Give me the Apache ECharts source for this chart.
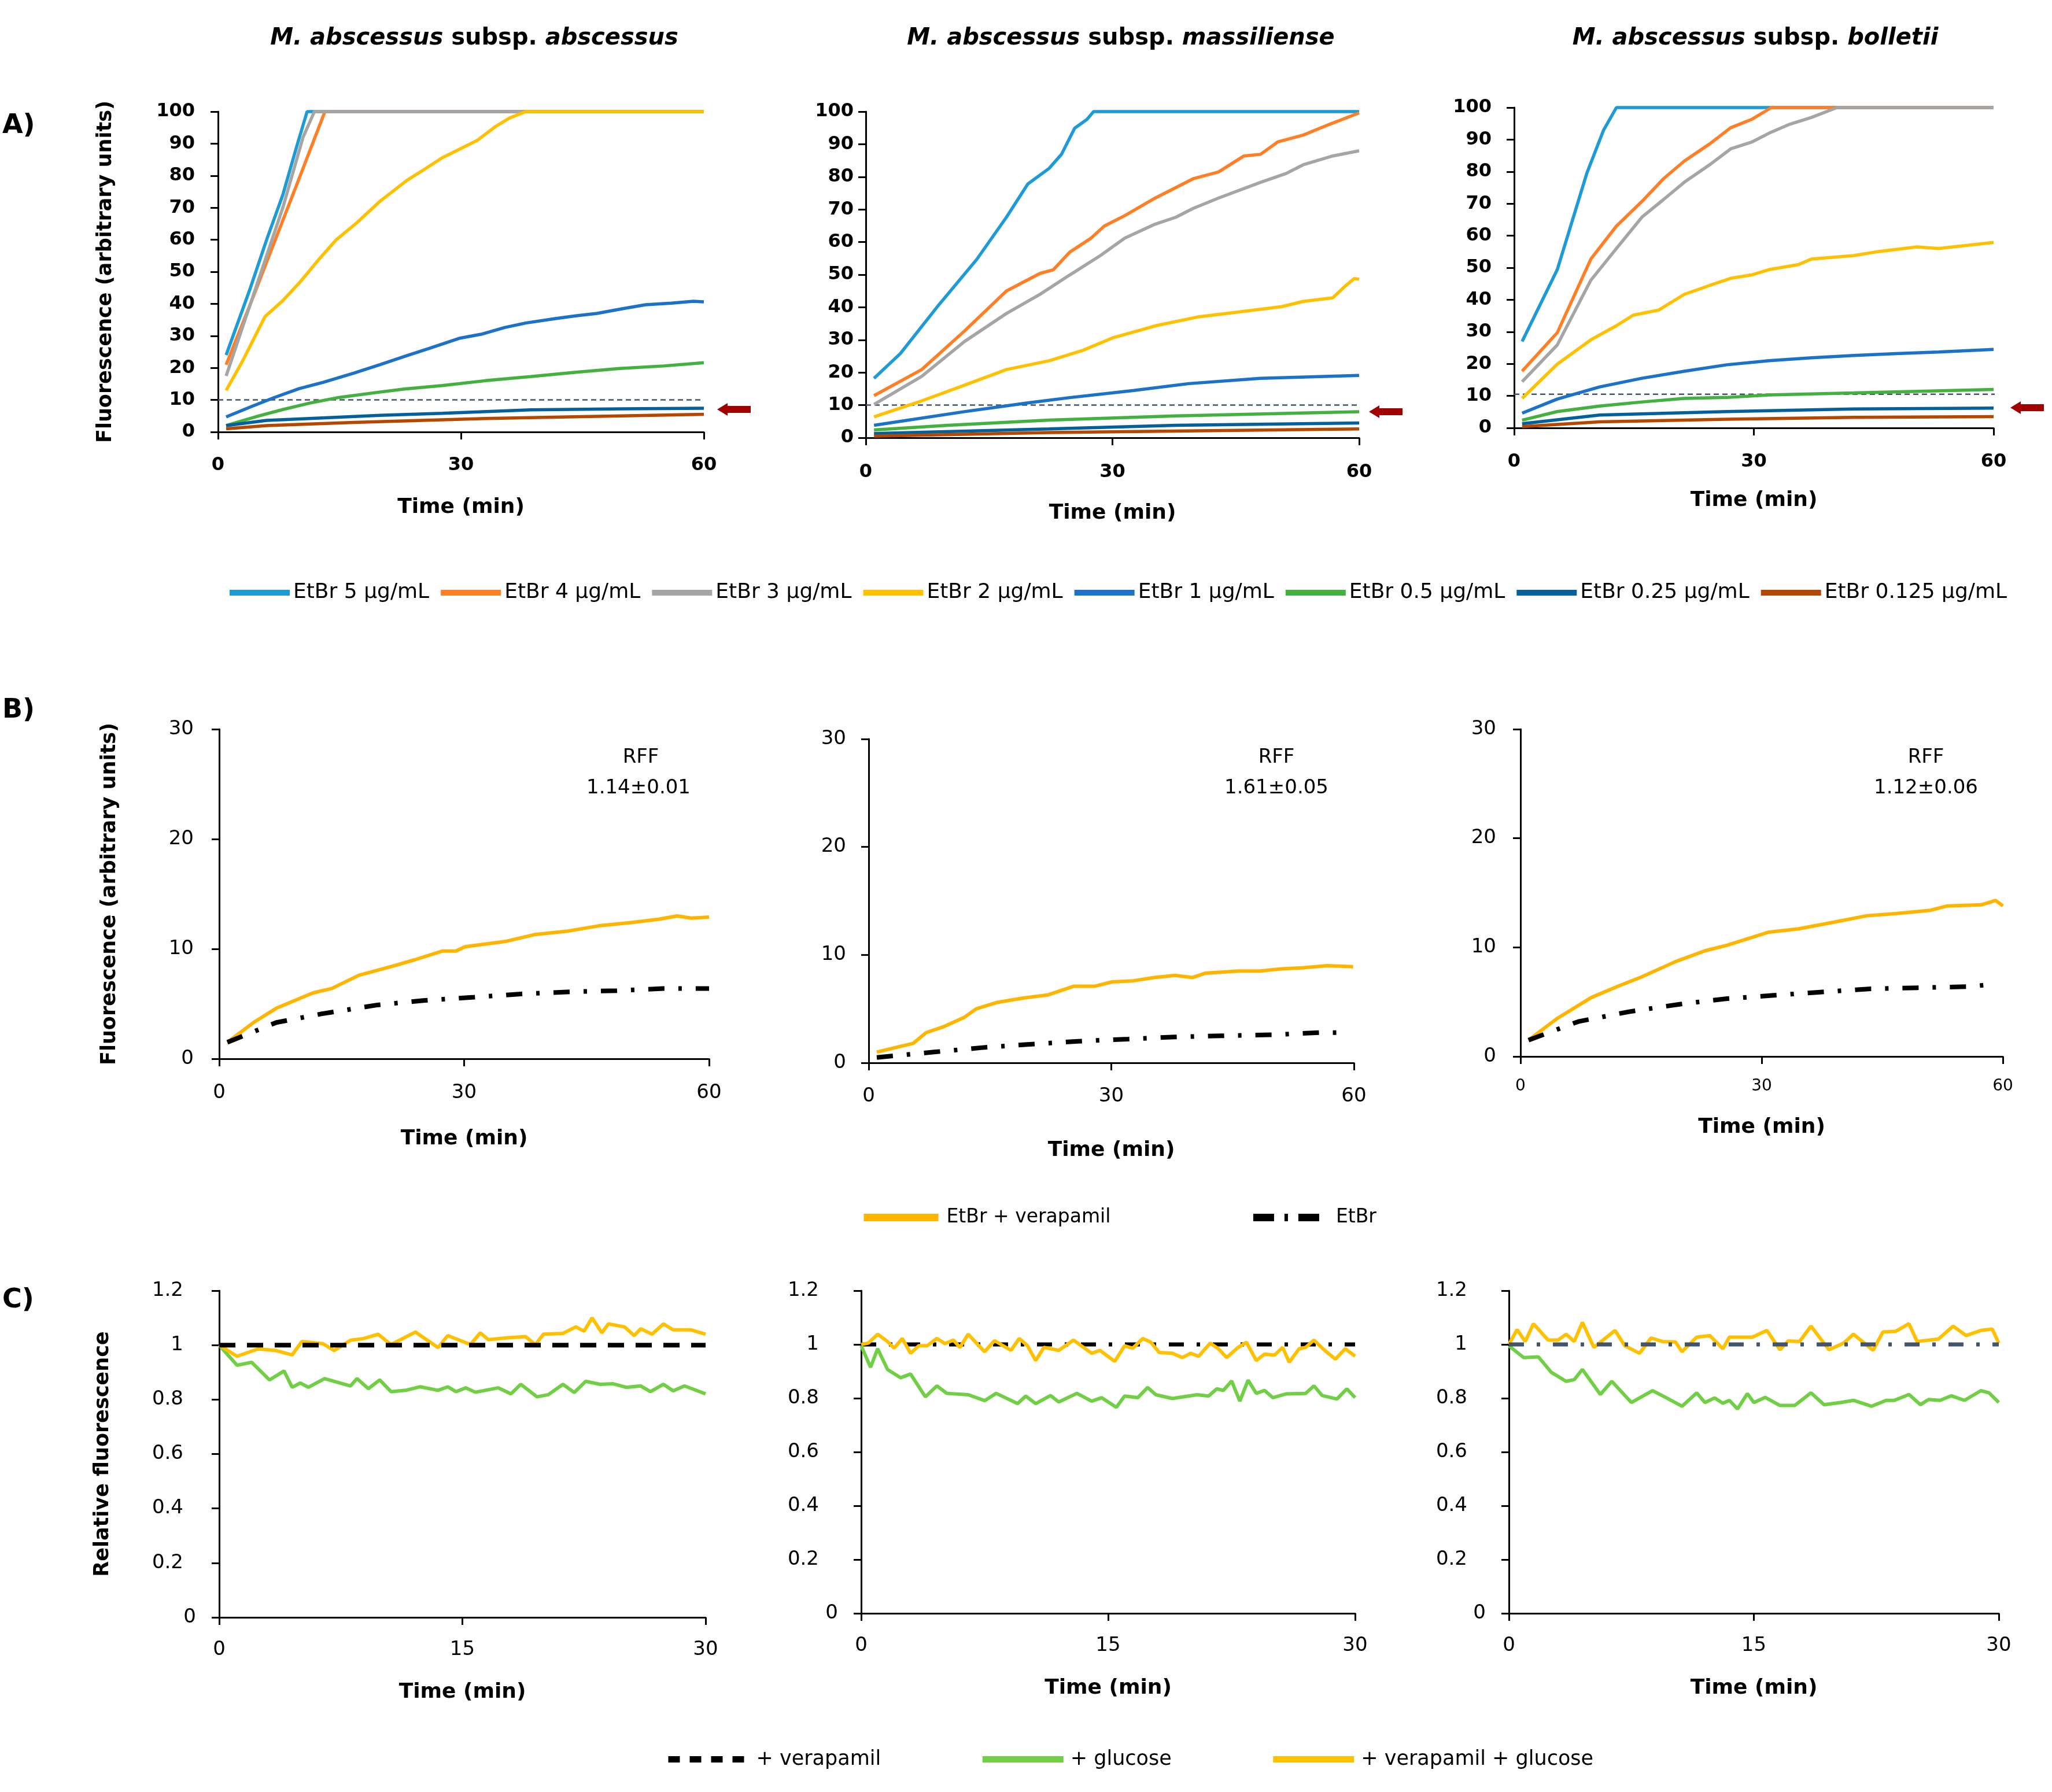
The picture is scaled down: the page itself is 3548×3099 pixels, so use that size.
<!DOCTYPE html>
<html><head><meta charset="utf-8">
<script src="https://cdn.jsdelivr.net/npm/echarts@6/dist/echarts.min.js"></script>
<style>html,body{margin:0;padding:0;background:#fff}#c{width:3548px;height:3099px}</style>
</head><body><div id="c"></div>
<script>
// ---------- DATA ----------
const concNames = ['EtBr 5 µg/mL','EtBr 4 µg/mL','EtBr 3 µg/mL','EtBr 2 µg/mL','EtBr 1 µg/mL','EtBr 0.5 µg/mL','EtBr 0.25 µg/mL','EtBr 0.125 µg/mL'];
const concColors = ['#1E9BD7','#FF7F27','#A5A5A5','#FFC000','#1B72C8','#44B040','#04609A','#B44800'];
const xTicksA = [0,30,60], xTicksC = [0,15,30];
const thresholdA = [10, 10, 10.5];

// Panel A1 (subsp. abscessus): [time min, fluorescence]
const A1_5 = [[1,24],[4,45],[6,60],[8,74],[9.7,89],[11,100],[60,100]];
const A1_4 = [[1,21],[4,40],[8,66],[10,79],[13.2,100],[60,100]];
const A1_3 = [[1,17.5],[4,40],[8,70],[10.5,92],[11.9,100],[60,100]];
const A1_2 = [[1,13],[3,22],[5.8,36],[8,41],[10.2,47],[12.5,54],[14.6,60],[17,65],[20,72],[23.3,78.5],[25.5,82],[27.7,85.6],[30.4,89],[32,91],[34.3,95.4],[36,98],[38,100],[60,100]];
const A1_1 = [[1,4.7],[4,7.8],[6.9,10.7],[10,13.5],[13,15.5],[16.8,18.4],[20,21],[23.3,23.8],[26,26],[29.9,29.3],[32.5,30.5],[35.4,32.6],[38,34],[41.4,35.3],[44,36.2],[46.8,37],[50,38.5],[52.8,39.7],[56,40.2],[58.7,40.8],[60,40.6]];
const A1_05 = [[1,2],[5,5],[8,7],[11.3,9],[15,10.8],[19.5,12.3],[23,13.4],[27.7,14.5],[33,16],[38.6,17.3],[44,18.6],[49.6,19.8],[55,20.6],[60,21.6]];
const A1_025 = [[1,2],[6,3.6],[11.3,4.2],[20,5.2],[27.7,5.8],[38.6,6.9],[50,7.2],[60,7.4]];
const A1_0125 = [[1,1],[6,2],[16.8,3],[33,4.2],[45,4.8],[60,5.5]];

// Panel A2 (subsp. massiliense)
const A2_5 = [[1,18.2],[4.2,25.8],[8.9,40.8],[13.5,54.7],[17.1,67.6],[19.7,77.8],[22.3,82.6],[23.8,86.9],[25.4,94.9],[26.9,97.6],[27.7,100],[60,100]];
const A2_4 = [[1,12.9],[6.8,20.9],[12,32.7],[17.1,45],[21.2,50.4],[22.8,51.5],[24.8,56.9],[27.4,61.2],[29,64.9],[31.5,68.1],[35.2,73.5],[39.8,79.4],[42.9,81.5],[46,86.4],[48,86.9],[50.1,90.7],[53.2,92.8],[56.3,96],[60,99.6]];
const A2_3 = [[1,10.2],[6.8,18.8],[12,29.5],[17.1,38.1],[21.2,44],[24.8,49.9],[28.5,55.8],[31.5,61.2],[35.2,65.5],[37.7,67.6],[39.8,70.3],[42.9,73.5],[48,78.3],[51.1,81],[53.2,83.7],[56.8,86.4],[60,88]];
const A2_2 = [[1,6.4],[6.8,11.3],[12,16.1],[17.1,20.9],[22.3,23.6],[26.4,26.8],[30,30.6],[35.2,34.3],[40.3,37],[45.5,38.6],[50.6,40.2],[53.2,41.8],[56.8,42.9],[58.4,46.7],[59.4,48.8],[60,48.6]];
const A2_1 = [[1,3.8],[12,8],[19.7,10.7],[24.8,12.3],[32.6,14.5],[39.3,16.6],[48,18.2],[60,19.1]];
const A2_05 = [[1,2.4],[10,3.8],[22.3,5.4],[37.7,6.7],[60,8]];
const A2_025 = [[1,1.3],[22.3,2.7],[37.7,3.8],[60,4.5]];
const A2_0125 = [[1,0.5],[22.3,1.6],[60,2.7]];

// Panel A3 (subsp. bolletii)
const A3_5 = [[1,27],[5.4,49.4],[9.1,79.5],[11.2,93],[12.8,100],[60,100]];
const A3_4 = [[1,17.7],[5.4,29.7],[9.6,52.7],[12.8,63],[16,70.7],[18.7,77.8],[21.3,83.3],[24.5,88.7],[27.1,93.7],[29.8,96.4],[32.2,100],[60,100]];
const A3_3 = [[1,14.4],[5.4,25.9],[9.6,46.1],[12.8,56],[16,65.8],[18.7,71.3],[21.3,76.7],[24.5,82.2],[27.1,87.1],[29.8,89.3],[31.9,92],[34.5,94.8],[37.2,96.9],[40.4,100],[60,100]];
const A3_2 = [[1,9.2],[5.4,19.9],[9.6,27.5],[12.8,31.9],[14.9,35.2],[18.1,36.8],[21.3,41.7],[24.5,44.5],[27.1,46.7],[29.8,47.8],[31.9,49.4],[35.6,51],[37.2,52.7],[42.5,53.8],[45.2,54.9],[50.4,56.5],[53.1,56],[60,57.9]];
const A3_1 = [[1,4.6],[5.4,9],[10.7,12.8],[16,15.5],[21.3,17.7],[26.6,19.7],[31.9,21],[37.2,21.9],[42.5,22.6],[47.8,23.2],[53.1,23.7],[60,24.5]];
const A3_05 = [[1,2.4],[5.4,5.1],[10.7,6.8],[16,8.1],[21.3,9.2],[26.6,9.5],[31.9,10.3],[42.5,10.9],[60,12]];
const A3_025 = [[1,1.3],[10.7,4],[26.6,5.1],[42.5,5.9],[60,6.2]];
const A3_0125 = [[1,0.4],[10.7,1.9],[26.6,2.7],[42.5,3.3],[60,3.5]];

// Panel B: EtBr + verapamil vs EtBr
const B1_ver = [[1,1.5],[4.2,3.3],[7,4.6],[11.5,6],[13.8,6.4],[17.1,7.6],[21.1,8.4],[23.9,9],[27.3,9.8],[29,9.8],[30.1,10.2],[35.2,10.7],[38.6,11.3],[42.5,11.6],[46.5,12.1],[50.4,12.4],[53.8,12.7],[56.1,13],[57.8,12.8],[60,12.9]];
const B1_etbr = [[1,1.5],[7,3.3],[12.6,4.1],[19.4,4.9],[25,5.3],[31.2,5.6],[36.9,5.9],[43.1,6.1],[48.7,6.2],[54.4,6.4],[60,6.4]];
const B2_ver = [[1,1],[5.5,1.8],[7.1,2.8],[9.1,3.3],[11.8,4.2],[13.3,5],[15.9,5.6],[19.1,6],[22.2,6.3],[25.4,7.1],[28,7.1],[30.1,7.5],[32.7,7.6],[35.3,7.9],[37.9,8.1],[40,7.9],[41.6,8.3],[45.7,8.5],[48.4,8.5],[51,8.7],[53.6,8.8],[56.7,9],[59.9,8.9]];
const B2_etbr = [[1,0.5],[8.1,1],[13.9,1.4],[19.6,1.7],[25.9,2],[32.1,2.2],[37.9,2.4],[43.6,2.5],[49.9,2.6],[55.7,2.8],[59.1,2.8]];
const B3_ver = [[1,1.5],[4.6,3.5],[8.8,5.4],[12,6.4],[15.1,7.3],[19.3,8.7],[23,9.7],[25.7,10.2],[30.9,11.4],[34.6,11.7],[38.9,12.3],[43.1,12.9],[46.8,13.1],[51,13.4],[53.1,13.8],[57.3,13.9],[59.1,14.3],[60,13.8]];
const B3_etbr = [[1,1.5],[7.2,3.2],[13.5,4.1],[19.9,4.8],[25.7,5.3],[31.5,5.6],[37.3,5.9],[43.6,6.2],[49.4,6.3],[55.7,6.4],[58.6,6.6]];
const rffText = ['1.14±0.01','1.61±0.05','1.12±0.06'];

// Panel C: relative fluorescence
const C_verapamil = [[0,1],[30,1]];
const C1_glu = [[0,1],[1.1,0.926],[2,0.937],[3.1,0.872],[4,0.905],[4.5,0.845],[5,0.861],[5.5,0.845],[6.5,0.877],[8.1,0.85],[8.5,0.877],[9.2,0.84],[9.9,0.872],[10.6,0.829],[11.5,0.834],[12.4,0.847],[13.5,0.834],[14.1,0.847],[14.6,0.829],[15.2,0.843],[15.8,0.827],[17.2,0.843],[18,0.821],[18.6,0.856],[19.6,0.81],[20.3,0.818],[21.2,0.856],[21.9,0.826],[22.6,0.867],[23.5,0.856],[24.3,0.858],[25.1,0.845],[26,0.85],[26.6,0.829],[27.4,0.856],[28,0.832],[28.7,0.85],[30,0.821]];
const C1_vg = [[0,1],[1.1,0.959],[2.4,0.986],[3.5,0.98],[4.5,0.964],[5.1,1.013],[6.4,1.005],[7.1,0.98],[8.1,1.018],[8.9,1.024],[9.8,1.04],[10.6,1.002],[12.1,1.048],[13.5,0.991],[14.1,1.035],[15.5,1.002],[16.1,1.045],[16.6,1.02],[17.8,1.027],[18.9,1.031],[19.5,1.002],[20,1.04],[21.2,1.043],[22,1.067],[22.5,1.051],[23,1.1],[23.6,1.045],[24,1.078],[25,1.067],[25.6,1.035],[26,1.06],[26.7,1.04],[27.4,1.078],[28,1.056],[29.1,1.056],[30,1.04]];
const C2_glu = [[0,0.995],[0.57,0.915],[1,0.984],[1.6,0.907],[2.4,0.876],[3,0.89],[3.9,0.805],[4.6,0.846],[5.2,0.818],[6.5,0.813],[7.5,0.791],[8.2,0.818],[9.5,0.78],[10,0.808],[10.6,0.78],[11.5,0.81],[12,0.786],[13.1,0.818],[14,0.789],[14.6,0.802],[15.5,0.766],[16,0.808],[16.8,0.802],[17.4,0.84],[17.9,0.813],[18.9,0.799],[20.4,0.813],[21.1,0.808],[21.6,0.835],[22,0.829],[22.5,0.864],[23,0.789],[23.5,0.867],[24,0.818],[24.5,0.829],[25,0.802],[25.8,0.816],[27,0.818],[27.5,0.846],[28,0.81],[28.9,0.797],[29.5,0.835],[30,0.802]];
const C2_vg = [[0,1],[0.44,1.005],[1,1.038],[1.6,1.011],[2,0.986],[2.5,1.022],[3,0.967],[3.5,0.995],[4,0.995],[4.6,1.022],[5.1,1.003],[5.6,1.016],[6,0.989],[6.5,1.038],[7,1.005],[7.5,0.973],[8.1,1.014],[9.1,0.978],[9.6,1.022],[10.1,0.995],[10.6,0.94],[11.1,0.989],[12,0.978],[12.9,1.016],[14,0.967],[14.5,0.978],[15.4,0.937],[16,0.995],[16.5,0.986],[17.1,1.022],[17.6,1.008],[18.1,0.97],[18.9,0.967],[19.5,0.951],[20,0.967],[20.5,0.956],[21.2,1.005],[21.7,0.984],[22.2,0.951],[22.9,0.989],[23.4,1.008],[24,0.94],[24.5,0.964],[25.1,0.96],[25.6,0.989],[26,0.934],[26.6,0.984],[27,0.989],[27.5,1.016],[28.1,0.981],[28.8,0.945],[29.4,0.984],[30,0.956]];
const C3_glu = [[0,0.995],[0.9,0.951],[1.8,0.954],[2.6,0.896],[3.5,0.863],[4,0.869],[4.5,0.907],[5.6,0.814],[6.3,0.863],[7.5,0.784],[8.8,0.828],[9.6,0.803],[10.6,0.77],[11.5,0.82],[12,0.784],[12.6,0.801],[13.1,0.781],[13.5,0.792],[14,0.76],[14.6,0.817],[15,0.784],[15.7,0.803],[16.6,0.773],[17.5,0.773],[18.5,0.82],[19.3,0.776],[20.3,0.784],[21.1,0.792],[22.2,0.77],[23.1,0.792],[23.6,0.792],[24.5,0.814],[25.2,0.776],[25.7,0.795],[26.4,0.792],[27.1,0.809],[27.9,0.792],[28.9,0.828],[29.4,0.82],[30,0.784]];
const C3_vg = [[0,1],[0.5,1.055],[1,1.011],[1.5,1.077],[2.4,1.016],[3,1.016],[3.5,1.038],[4,1.011],[4.5,1.082],[5.2,0.989],[6.5,1.052],[7.1,0.995],[8,0.967],[8.7,1.024],[9.4,1.011],[10.2,1.009],[10.6,0.973],[11.5,1.027],[12.3,1.033],[13.1,0.984],[13.5,1.027],[14.9,1.027],[15.8,1.052],[16.6,0.98],[17.1,1.013],[17.8,1.011],[18.5,1.068],[19.6,0.98],[20.5,1.005],[21.1,1.038],[22.3,0.978],[22.9,1.046],[23.7,1.049],[24.5,1.077],[25,1.011],[26.3,1.02],[27.2,1.068],[28,1.033],[28.9,1.052],[29.6,1.057],[30,1.005]];

// ---------- CHART ----------
const FONT = 'DejaVu Sans';
const chart = echarts.init(document.getElementById('c'), null, {renderer:'canvas'});

const grids = [
  {left:377, top:193, width:840, height:554},
  {left:1497, top:193, width:853, height:564},
  {left:2618, top:186, width:829, height:554},
  {left:379, top:1261, width:847, height:570},
  {left:1502, top:1278, width:839, height:560},
  {left:2629, top:1261, width:834, height:566},
  {left:379, top:2232, width:841, height:565},
  {left:1489, top:2232, width:854, height:558},
  {left:2609, top:2232, width:847, height:558}
].map(g => Object.assign({containLabel:false, outerBoundsMode:'none'}, g));

const axLine = {show:true, lineStyle:{color:'#000', width:3}};
const axTick = {show:true, length:13, lineStyle:{color:'#000', width:3}};

function xAx(gi, max, interval, nameGap, margin, fs, bold) {
  return {type:'value', gridIndex:gi, min:0, max:max, interval:interval,
    axisLine:axLine, axisTick:axTick, splitLine:{show:false},
    axisLabel:{color:'#000', fontFamily:FONT, fontSize:fs, fontWeight:bold?'bold':'normal', margin:margin, showMinLabel:true, showMaxLabel:true},
    name:'Time (min)', nameLocation:'middle', nameGap:nameGap, nameMoveOverlap:false,
    nameTextStyle:{color:'#000', fontFamily:FONT, fontSize:36, fontWeight:'bold'}};
}
function yAx(gi, max, interval, name, nameGap, margin, fs, bold, pad) {
  const a = {type:'value', gridIndex:gi, min:0, max:max, interval:interval,
    axisLine:axLine, axisTick:axTick, splitLine:{show:false},
    axisLabel:{color:'#000', fontFamily:FONT, fontSize:fs, fontWeight:bold?'bold':'normal', margin:margin, showMinLabel:true, showMaxLabel:true},
    name:name, nameLocation:'middle', nameGap:nameGap, nameMoveOverlap:false,
    nameTextStyle:{color:'#000', fontFamily:FONT, fontSize:35, fontWeight:'bold'}};
  if (pad) {
    a.axisLabel.formatter = v => { const s = String(+v.toFixed(1)); return v === 0 ? s : '{p|' + s + '}'; };
    a.axisLabel.rich = {p:{padding:[0,pad,0,0], fontSize:fs, fontFamily:FONT, color:'#000'}};
  }
  return a;
}
const FL = 'Fluorescence (arbitrary units)';
const xAxes = [
  xAx(0,60,30,113,42,32,true), xAx(1,60,30,113,44,32,true), xAx(2,60,30,108,43,32,true),
  xAx(3,60,30,121,42,34,false), xAx(4,60,30,134,41,34,false), xAx(5,60,30,105,38,28,false),
  xAx(6,30,15,112,39,34,false), xAx(7,30,15,112,39,34,false), xAx(8,30,15,112,39,34,false)
];
const yAxes = [
  yAx(0,100,10,FL,177,40,32,true), yAx(1,100,10,'',0,21,32,true), yAx(2,100,10,'',0,39,32,true),
  yAx(3,30,10,FL,172,44,34,false), yAx(4,30,10,'',0,39,34,false), yAx(5,30,10,'',0,42,34,false),
  yAx(6,1.2,0.2,'Relative fluorescence',184,40,34,false,22), yAx(7,1.2,0.2,'',0,40,34,false,33), yAx(8,1.2,0.2,'',0,40,34,false,32)
];

function S(name, data, color, gi, width, dash, z) {
  return {type:'line', name:name, data:data, xAxisIndex:gi, yAxisIndex:gi,
    symbol:'none', showSymbol:false, clip:false, silent:true, animation:false, z:z||2,
    lineStyle:{color:color, width:width||5.5, type:dash||'solid'}, itemStyle:{color:color}};
}

const series = [];
const panelsA = [
  [A1_5,A1_4,A1_3,A1_2,A1_1,A1_05,A1_025,A1_0125],
  [A2_5,A2_4,A2_3,A2_2,A2_1,A2_05,A2_025,A2_0125],
  [A3_5,A3_4,A3_3,A3_2,A3_1,A3_05,A3_025,A3_0125]
];
panelsA.forEach((arrs, gi) => {
  const thr = thresholdA[gi];
  series.push(S('threshold', [[0,thr],[gi===2?61:60,thr]], '#44546A', gi, 2.5, [9,6], 1));
  arrs.forEach((d, k) => series.push(S(concNames[k], d, concColors[k], gi, 5.5)));
});
const dashDot = [28,24,6,24];
[[B1_ver,B1_etbr],[B2_ver,B2_etbr],[B3_ver,B3_etbr]].forEach((p, k) => {
  series.push(S('EtBr', p[1], '#000', 3+k, 8, dashDot, 3));
  series.push(S('EtBr + verapamil', p[0], '#FFB400', 3+k, 6, 'solid', 2));
});
const cStyles = [
  {c:'#000', dash:[28,20], w:8},
  {c:'#000', dash:[26,22,6,22], w:7},
  {c:'#44546A', dash:[26,22,6,22], w:7}
];
[[C1_glu,C1_vg],[C2_glu,C2_vg],[C3_glu,C3_vg]].forEach((p, k) => {
  const st = cStyles[k];
  series.push(S('+ verapamil', C_verapamil, st.c, 6+k, st.w, st.dash, k===1?1:4));
  series.push(S('+ glucose', p[0], '#71CF45', 6+k, 6, 'solid', 2));
  series.push(S('+ verapamil + glucose', p[1], '#FFC000', 6+k, 6, 'solid', 3));
});

const legTxt = (fs, pl) => ({color:'#000', fontFamily:FONT, fontSize:fs, padding:[0,0,0,pl]});
const noSym = {opacity:0, borderWidth:0};
const legends = [
  {data:concNames, left:387, top:1002, orient:'horizontal', itemWidth:104, itemHeight:20, itemGap:15,
   textStyle:legTxt(36,1), lineStyle:{width:10}, itemStyle:noSym, selectedMode:false},
  {data:[{name:'EtBr + verapamil', lineStyle:{width:13, type:'solid'}},
         {name:'EtBr', lineStyle:{width:13, type:[36,18,6,18]}}],
   left:1482, top:2084, itemWidth:129, itemHeight:20, itemGap:240, textStyle:legTxt(33,9), itemStyle:noSym, selectedMode:false},
  {data:[{name:'+ verapamil', lineStyle:{width:11, type:[20,17], color:'#000'}},
         {name:'+ glucose', lineStyle:{width:11, type:'solid'}},
         {name:'+ verapamil + glucose', lineStyle:{width:11, type:'solid'}}],
   left:1145, top:3020, itemWidth:140, itemHeight:20, itemGap:170, textStyle:legTxt(35,7), itemStyle:noSym, selectedMode:false}
];

const titleRich = {
  i:{fontStyle:'italic', fontWeight:'bold', fontSize:40, fontFamily:FONT, fill:'#000'},
  n:{fontStyle:'normal', fontWeight:'bold', fontSize:40, fontFamily:FONT, fill:'#000'}
};
const titles = [
  ['abscessus', 820], ['massiliense', 1938], ['bolletii', 3035]
];
const graphic = [];
titles.forEach(t => graphic.push({type:'text', x:t[1], y:67, silent:true,
  style:{text:'{i|M. abscessus} {n|subsp.} {i|' + t[0] + '}', rich:titleRich, align:'center', verticalAlign:'middle', fontSize:40, fontFamily:FONT, fontWeight:'bold', fill:'#000'}}));
[['A)',218],['B)',1229],['C)',2249]].forEach(l => graphic.push({type:'text', x:4, y:l[1], silent:true,
  style:{text:l[0], fontSize:46, fontWeight:'bold', fontFamily:FONT, fill:'#000', align:'left', verticalAlign:'middle'}}));
[[1108,1104],[2207,2207],[3330,3330]].forEach((c, k) => {
  graphic.push({type:'text', x:c[0], y:1310, silent:true, style:{text:'RFF', fontSize:34, fontFamily:FONT, fill:'#000', align:'center', verticalAlign:'middle'}});
  graphic.push({type:'text', x:c[1], y:1363, silent:true, style:{text:rffText[k], fontSize:34, fontFamily:FONT, fill:'#000', align:'center', verticalAlign:'middle'}});
});
// red arrows marking the 0.25 µg/mL curve
[[1240,708],[2367,712],[3476,705]].forEach(a => graphic.push({type:'polygon', x:a[0], y:a[1], silent:true,
  shape:{points:[[0,0],[18,-11],[18,-6],[58,-6],[58,6],[18,6],[18,11]]}, style:{fill:'#A00000'}}));

chart.setOption({
  backgroundColor:'#fff',
  animation:false,
  textStyle:{fontFamily:FONT},
  grid:grids, xAxis:xAxes, yAxis:yAxes, series:series, legend:legends, graphic:graphic
});
</script></body></html>
